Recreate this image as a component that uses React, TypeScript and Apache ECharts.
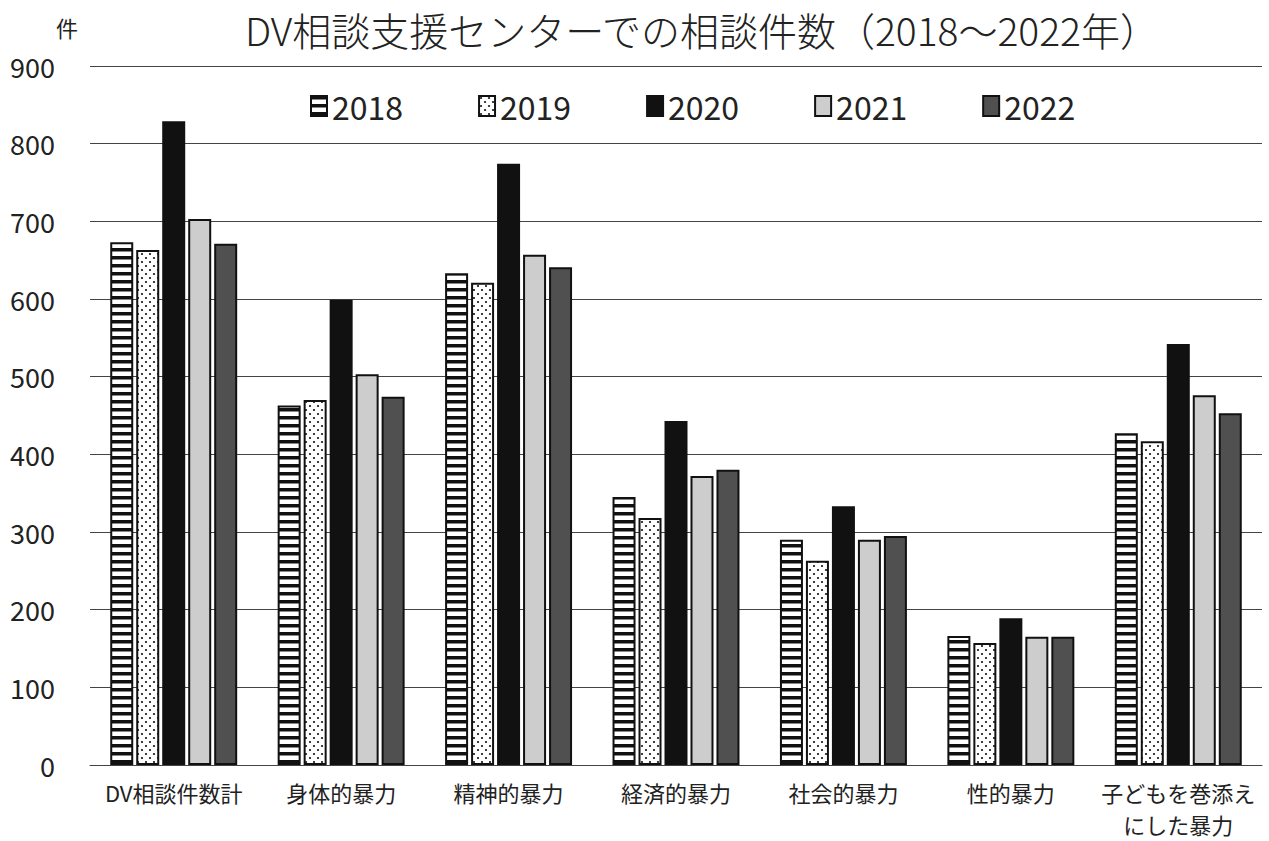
import React, { useEffect, useRef } from "react";
import * as echarts from "echarts";

const categories = [
  "DV相談件数計",
  "身体的暴力",
  "精神的暴力",
  "経済的暴力",
  "社会的暴力",
  "性的暴力",
  "子どもを巻添え\nにした暴力",
];
const years = ["2018", "2019", "2020", "2021", "2022"];
const v2018 = [673, 463, 633, 345, 290, 166, 427];
const v2019 = [663, 470, 621, 318, 263, 157, 417];
const v2020 = [829, 599, 774, 443, 333, 189, 542];
const v2021 = [703, 503, 657, 372, 290, 165, 476];
const v2022 = [671, 474, 641, 380, 295, 165, 453];
const seriesValues = [v2018, v2019, v2020, v2021, v2022];
const yTicks = [0, 100, 200, 300, 400, 500, 600, 700, 800, 900];

const FONT = "'Noto Sans CJK JP', 'Noto Sans', sans-serif";

function stripeCanvas() {
  const c = document.createElement("canvas");
  c.width = 8;
  c.height = 8;
  const g = c.getContext("2d")!;
  g.fillStyle = "#ffffff";
  g.fillRect(0, 0, 8, 8);
  g.fillStyle = "#111111";
  g.fillRect(0, 0, 8, 3.5);
  return c;
}

function dotCanvas() {
  const c = document.createElement("canvas");
  c.width = 8;
  c.height = 8;
  const g = c.getContext("2d")!;
  g.fillStyle = "#ffffff";
  g.fillRect(0, 0, 8, 8);
  g.fillStyle = "#111111";
  g.beginPath();
  g.arc(2, 2, 1.1, 0, Math.PI * 2);
  g.fill();
  g.beginPath();
  g.arc(6, 6, 1.1, 0, Math.PI * 2);
  g.fill();
  return c;
}

export default function App() {
  const ref = useRef<HTMLDivElement>(null);
  useEffect(() => {
    if (!ref.current) return;
    const chart = echarts.init(ref.current, null, { renderer: "svg" });
    const fills: any[] = [
      { image: stripeCanvas(), repeat: "repeat" },
      { image: dotCanvas(), repeat: "repeat" },
      "#111111",
      "#cdcdcd",
      "#505050",
    ];
    chart.setOption({
      animation: false,
      backgroundColor: "#ffffff",
      title: {
        text: "DV相談支援センターでの相談件数（2018～2022年）",
        left: 697,
        textAlign: "center",
        top: 4,
        textStyle: { fontFamily: FONT, fontSize: 39, fontWeight: 300, color: "#222" },
      },
      graphic: [
        {
          type: "text",
          left: 56,
          top: 16,
          style: { text: "件", fontFamily: FONT, fontSize: 22, fill: "#222" },
        },
      ],
      legend: {
        data: years,
        top: 85,
        left: 305,
        icon: "rect",
        itemWidth: 16,
        itemHeight: 20,
        itemGap: 75,
        textStyle: { fontFamily: FONT, fontSize: 32, color: "#222", padding: [0, 0, 0, 0] },
      },
      grid: { left: 90, right: 7, top: 66, bottom: 76, outerBoundsMode: "none" },
      xAxis: {
        type: "category",
        data: categories,
        axisLine: { lineStyle: { color: "#444", width: 1 } },
        axisTick: { show: false },
        axisLabel: {
          fontFamily: FONT,
          fontSize: 22,
          color: "#222",
          margin: 11,
          lineHeight: 32,
          interval: 0,
        },
      },
      yAxis: {
        type: "value",
        min: 0,
        max: 900,
        interval: 100,
        axisLine: { show: false },
        axisTick: { show: false },
        axisLabel: {
          fontFamily: FONT,
          fontSize: 27,
          color: "#222",
          margin: 35,
          formatter: (v: number) => (yTicks.includes(v) ? String(v) : ""),
        },
        splitLine: { lineStyle: { color: "#444", width: 1 } },
      },
      series: years.map((y, i) => ({
        name: y,
        type: "bar",
        data: seriesValues[i],
        barWidth: 23,
        barGap: "13%",
        itemStyle: { color: fills[i], borderColor: "#111", borderWidth: 2 },
      })),
    });
    return () => chart.dispose();
  }, []);
  return (
    <div
      ref={ref}
      style={{ position: "fixed", left: 0, top: 0, width: 1269, height: 841 }}
    />
  );
}
